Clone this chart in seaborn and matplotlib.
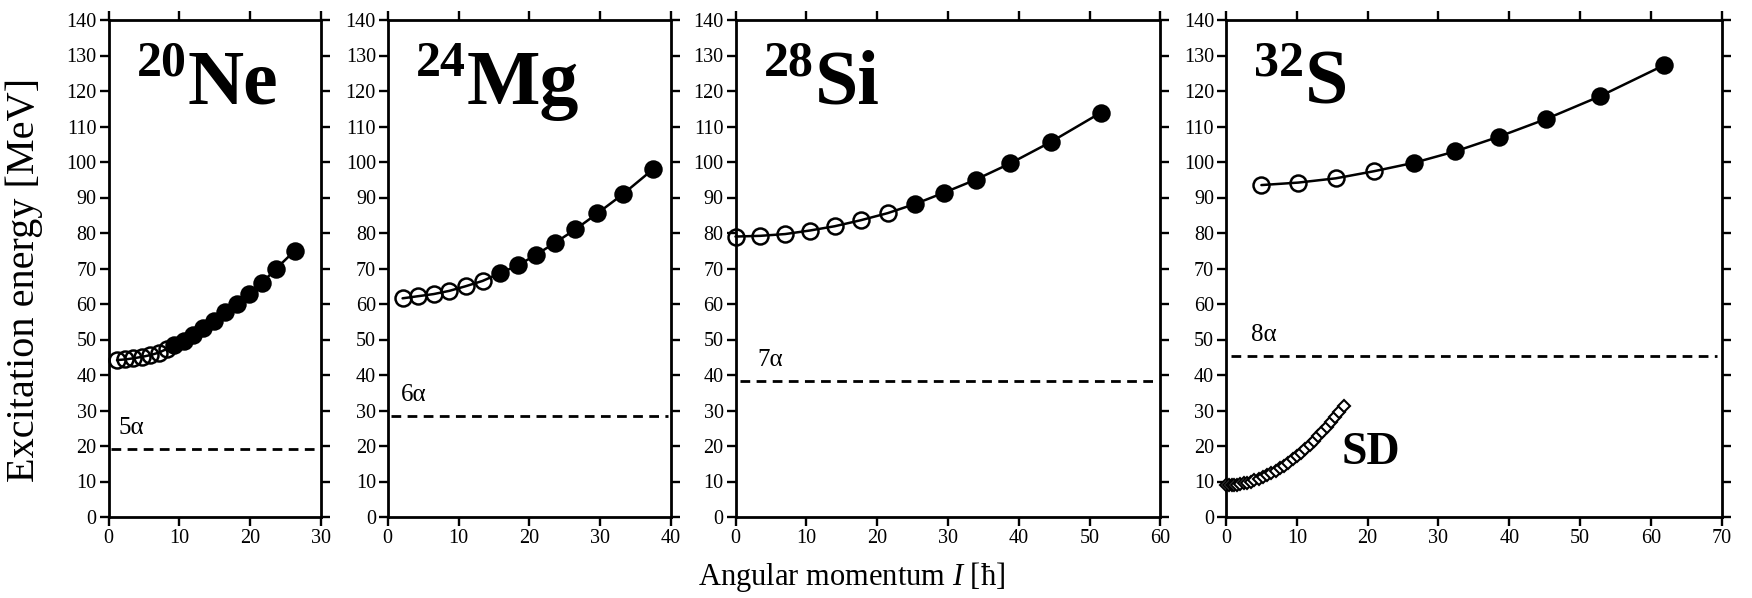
import matplotlib
matplotlib.use("Agg")
import matplotlib.pyplot as plt
import seaborn as sns
import pandas as pd

# ---------------- data ----------------
ne_open_I = [1.2, 2.4, 3.5, 4.7, 5.9, 7.1, 8.2]
ne_open_E = [44.2, 44.4, 44.7, 45.1, 45.6, 46.3, 47.3]
ne_fill_I = [9.2, 10.6, 12.0, 13.4, 14.9, 16.5, 18.2, 19.8, 21.7, 23.7, 26.3]
ne_fill_E = [48.5, 49.7, 51.3, 53.3, 55.3, 57.7, 60.0, 62.9, 66.0, 70.0, 75.0]

mg_open_I = [2.1, 4.3, 6.5, 8.7, 11.0, 13.4]
mg_open_E = [61.6, 62.2, 62.8, 63.7, 65.0, 66.5]
mg_fill_I = [15.9, 18.4, 20.9, 23.6, 26.5, 29.6, 33.2, 37.5]
mg_fill_E = [68.7, 70.9, 73.8, 77.2, 81.0, 85.5, 90.9, 98.0]

si_open_I = [0.0, 3.5, 7.0, 10.5, 14.0, 17.7, 21.5]
si_open_E = [79.0, 79.2, 79.7, 80.7, 81.9, 83.6, 85.6]
si_fill_I = [25.4, 29.5, 33.9, 38.8, 44.5, 51.6]
si_fill_E = [88.2, 91.4, 95.0, 99.6, 105.6, 113.9]

s_open_I = [5.0, 10.2, 15.5, 20.9]
s_open_E = [93.5, 94.2, 95.4, 97.4]
s_fill_I = [26.6, 32.4, 38.5, 45.2, 52.8, 61.8]
s_fill_E = [99.8, 103.0, 107.1, 112.1, 118.5, 127.2]

sd_I = [0.0, 0.4, 0.8, 1.2, 1.6, 2.0, 2.5, 3.0, 3.5, 4.0, 4.6, 5.2, 5.8, 6.4,
        7.0, 7.6, 8.2, 8.8, 9.4, 10.0, 10.6, 11.2, 11.8, 12.4, 13.0, 13.6,
        14.2, 14.8, 15.4, 16.0, 16.6]
sd_E = [8.9, 8.9, 9.0, 9.0, 9.1, 9.3, 9.5, 9.7, 10.0, 10.3, 10.7, 11.2, 11.7,
        12.3, 13.0, 13.7, 14.4, 15.3, 16.2, 17.1, 18.1, 19.2, 20.3, 21.5,
        22.7, 24.0, 25.3, 26.7, 28.2, 29.7, 31.3]

mass_numbers = ["20", "24", "28", "32"]
symbols = ["Ne", "Mg", "Si", "S"]
thresholds = [19.2, 28.4, 38.4, 45.4]
threshold_labels = ["5α", "6α", "7α", "8α"]
x_max = [30, 40, 60, 70]

open_I = [ne_open_I, mg_open_I, si_open_I, s_open_I]
open_E = [ne_open_E, mg_open_E, si_open_E, s_open_E]
fill_I = [ne_fill_I, mg_fill_I, si_fill_I, s_fill_I]
fill_E = [ne_fill_E, mg_fill_E, si_fill_E, s_fill_E]

# ---------------- style ----------------
sns.set_theme(style="ticks")
plt.rcParams["font.family"] = ["Liberation Serif", "DejaVu Serif"]
plt.rcParams["mathtext.fontset"] = "custom"
plt.rcParams["mathtext.rm"] = "Liberation Serif"
plt.rcParams["mathtext.it"] = "Liberation Serif:italic"
plt.rcParams["mathtext.bf"] = "Liberation Serif:bold"
plt.rcParams["text.color"] = "black"
plt.rcParams["axes.edgecolor"] = "black"

W, H = 1752, 598
fig = plt.figure(figsize=(W / 100, H / 100), dpi=100)
fig.patch.set_facecolor("white")

px_per_unit = 7.08
lefts_px = [108.5, 387.7, 735.5, 1226.0]
top_px, bottom_px = 20.0, 517.0

label_pos = [(1.4, 23.4), (1.9, 32.6), (3.1, 42.5), (3.6, 49.5)]

axes = []
for i in range(4):
    w = x_max[i] * px_per_unit
    ax = fig.add_axes([lefts_px[i] / W, (H - bottom_px) / H, w / W,
                       (bottom_px - top_px) / H])
    axes.append(ax)

    all_I = open_I[i] + fill_I[i]
    all_E = open_E[i] + fill_E[i]
    df = pd.DataFrame({"I": all_I, "E": all_E})
    sns.lineplot(data=df, x="I", y="E", ax=ax, color="black", lw=1.8,
                 zorder=2, clip_on=False)
    sns.lineplot(x=open_I[i], y=open_E[i], ax=ax, marker="o", ls="none",
                 ms=11.5, mfc="none", mec="black", mew=1.8, zorder=3,
                 clip_on=False)
    sns.lineplot(x=fill_I[i], y=fill_E[i], ax=ax, marker="o", ls="none",
                 ms=11.5, mfc="black", mec="black", mew=1.8, zorder=3,
                 clip_on=False)
    if i == 3:
        sns.lineplot(x=sd_I, y=sd_E, ax=ax, marker="D", ls="none", ms=6,
                     mfc="white", mec="black", mew=1.5, zorder=3,
                     clip_on=False)
        ax.text(16.3, 14.8, "SD", fontsize=33, fontweight="bold",
                ha="left", va="baseline")

    ax.axhline(thresholds[i], xmin=0.01, xmax=0.99, color="black", lw=2.0,
               dashes=(3.5, 2.3), zorder=1)
    ax.text(label_pos[i][0], label_pos[i][1], threshold_labels[i],
            fontsize=18, ha="left", va="baseline")

    ax.set_xlim(0, x_max[i])
    ax.set_ylim(0, 140)
    ax.set_xticks(range(0, x_max[i] + 1, 10))
    ax.set_yticks(range(0, 141, 10))
    ax.set_xlabel("")
    ax.set_ylabel("")
    for sp in ax.spines.values():
        sp.set_visible(True)
        sp.set_linewidth(2.0)
        sp.set_color("black")
    ax.tick_params(which="major", direction="out", length=6.5, width=1.7,
                   top=True, right=True, labeltop=False, labelright=False,
                   labelsize=14.5, pad=2, color="black", labelcolor="black")
    ax.set_facecolor("white")

# nucleus labels
sups = []
for ax, A in zip(axes, mass_numbers):
    t = ax.annotate(A, xy=(0, 1), xycoords="axes fraction", xytext=(28, -56),
                    textcoords="offset pixels", fontsize=36,
                    fontweight="bold", ha="left", va="baseline")
    sups.append(t)
fig.canvas.draw()
r = fig.canvas.get_renderer()
for ax, t, sym in zip(axes, sups, symbols):
    bb = t.get_window_extent(r)
    dx = bb.x1 - ax.bbox.x0 + 1
    ax.annotate(sym, xy=(0, 1), xycoords="axes fraction", xytext=(dx, -84),
                textcoords="offset pixels", fontsize=56, fontweight="bold",
                ha="left", va="baseline")

fig.text(852 / W, 0.022, "Angular momentum $I$ [ħ]", ha="center",
         va="baseline", fontsize=22)
fig.text(24 / W, 1 - 280 / H, "Excitation energy [MeV]", rotation=90,
         ha="center", va="center", fontsize=29)

fig.savefig("out.png", dpi=100, facecolor="white")
